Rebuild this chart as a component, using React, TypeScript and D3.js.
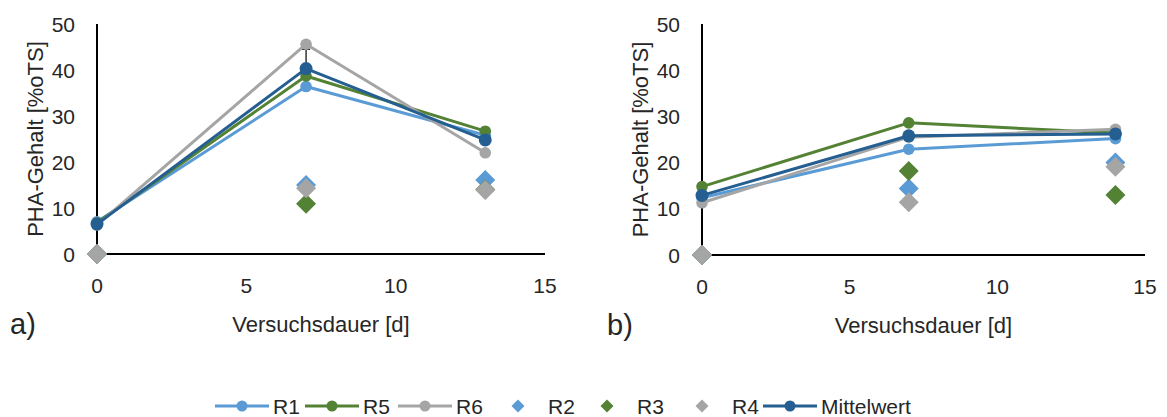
import React from "react";
import * as d3 from "d3";

// Versuchstage
const daysA = [0, 7, 13];
const daysB = [0, 7, 14];

// a) Reaktoren mit Verlauf (Linie)
const r1A = [7.0, 36.4, 25.8];
const r5A = [6.8, 38.7, 26.7];
const r6A = [6.3, 45.6, 22.0];
const meanA = [6.5, 40.3, 24.8];
const errA = [0, 4.2, 0];
// a) Einzelwerte (nur Punkte)
const r2A = [0, 15.0, 16.1];
const r3A = [0, 10.9, 14.0];
const r4A = [0, 14.3, 13.9];

// b)
const r1B = [12.4, 22.9, 25.2];
const r5B = [14.8, 28.6, 26.4];
const r6B = [11.3, 25.5, 27.2];
const meanB = [12.9, 25.8, 26.2];
const errB = [0, 0, 0];
const r2B = [0, 14.4, 20.0];
const r3B = [0, 18.2, 13.0];
const r4B = [0, 11.4, 19.1];

const yTicks = [0, 10, 20, 30, 40, 50];
const xTicks = [0, 5, 10, 15];

const C1 = "#5B9BD5";
const C5 = "#548235";
const C6 = "#A5A5A5";
const CM = "#255E91";
const FONT = "'Liberation Sans', Arial, sans-serif";
const TXT = "#262626";

const diamond = (cx, cy, h) => `M${cx},${cy - h}L${cx + h},${cy}L${cx},${cy + h}L${cx - h},${cy}Z`;

const Panel = ({ left, right, top, bottom, days, lines, points, mean, err, tag, tagX }) => {
  const x = d3.scaleLinear().domain([0, 15]).range([left, right]);
  const y = d3.scaleLinear().domain([0, 50]).range([bottom, top]);
  const line = d3
    .line<number>()
    .x((_, i) => x(days[i]))
    .y((d) => y(d));

  return (
    <g>
      {/* Achsen */}
      <line x1={left} x2={left} y1={top} y2={bottom} stroke="#000" strokeWidth={2} />
      <line x1={left} x2={right} y1={bottom} y2={bottom} stroke="#000" strokeWidth={2} />
      {yTicks.map((t) => (
        <text key={"y" + t} x={left - 22} y={y(t)} dy="0.36em" textAnchor="end" fontSize={21} fill={TXT} fontFamily={FONT}>
          {t}
        </text>
      ))}
      {xTicks.map((t) => (
        <text key={"x" + t} x={x(t)} y={bottom + 39} textAnchor="middle" fontSize={21} fill={TXT} fontFamily={FONT}>
          {t}
        </text>
      ))}
      <text
        transform={`translate(${left - 62},${(top + bottom) / 2}) rotate(-90)`}
        textAnchor="middle"
        dy="0.36em"
        fontSize={22}
        fill={TXT}
        fontFamily={FONT}
      >
        PHA-Gehalt [%oTS]
      </text>
      <text x={(left + right) / 2} y={bottom + 78} textAnchor="middle" fontSize={22} fill={TXT} fontFamily={FONT}>
        Versuchsdauer [d]
      </text>
      <text x={tagX} y={bottom + 80} fontSize={29} fill={TXT} fontFamily={FONT}>
        {tag}
      </text>

      {/* Fehlerbalken liegen hinter den Markern */}
      {err.map((e, i) =>
        e > 0 ? (
          <g key={"e" + i} stroke="#000" strokeWidth={1.2}>
            <line x1={x(days[i])} x2={x(days[i])} y1={y(mean[i] - e)} y2={y(mean[i] + e)} />
            <line x1={x(days[i]) - 4} x2={x(days[i]) + 4} y1={y(mean[i] + e)} y2={y(mean[i] + e)} />
            <line x1={x(days[i]) - 4} x2={x(days[i]) + 4} y1={y(mean[i] - e)} y2={y(mean[i] - e)} />
          </g>
        ) : null
      )}
      {lines.map((s) => (
        <g key={s.name}>
          <path d={line(s.values)} fill="none" stroke={s.color} strokeWidth={3} strokeLinejoin="round" />
          {s.values.map((v, i) => (
            <circle key={i} cx={x(days[i])} cy={y(v)} r={5.8} fill={s.color} />
          ))}
        </g>
      ))}
      {points.map((s) => (
        <g key={s.name}>
          {s.values.map((v, i) => (
            <path key={i} d={diamond(x(days[i]), y(v), 10)} fill={s.color} />
          ))}
        </g>
      ))}
      <path d={line(mean)} fill="none" stroke={CM} strokeWidth={3} strokeLinejoin="round" />
      {mean.map((v, i) => (
        <circle key={i} cx={x(days[i])} cy={y(v)} r={6.5} fill={CM} />
      ))}
    </g>
  );
};

const legendItems = [
  { name: "R1", color: C1, kind: "line", x: 215 },
  { name: "R5", color: C5, kind: "line", x: 305 },
  { name: "R6", color: C6, kind: "line", x: 398 },
  { name: "R2", color: C1, kind: "point", x: 508 },
  { name: "R3", color: C5, kind: "point", x: 597 },
  { name: "R4", color: C6, kind: "point", x: 692 },
  { name: "Mittelwert", color: CM, kind: "line", x: 763 },
];

const App = () => {
  const ly = 406;
  return (
    <svg width={1167} height={417} style={{ position: "absolute", left: 0, top: 0, background: "#fff" }}>
      <Panel
        left={97}
        right={545}
        top={24}
        bottom={254}
        days={daysA}
        lines={[
          { name: "R1", color: C1, values: r1A },
          { name: "R5", color: C5, values: r5A },
          { name: "R6", color: C6, values: r6A },
        ]}
        points={[
          { name: "R2", color: C1, values: r2A },
          { name: "R3", color: C5, values: r3A },
          { name: "R4", color: C6, values: r4A },
        ]}
        mean={meanA}
        err={errA}
        tag="a)"
        tagX={10}
      />
      <Panel
        left={702}
        right={1145}
        top={24}
        bottom={255}
        days={daysB}
        lines={[
          { name: "R1", color: C1, values: r1B },
          { name: "R5", color: C5, values: r5B },
          { name: "R6", color: C6, values: r6B },
        ]}
        points={[
          { name: "R2", color: C1, values: r2B },
          { name: "R3", color: C5, values: r3B },
          { name: "R4", color: C6, values: r4B },
        ]}
        mean={meanB}
        err={errB}
        tag="b)"
        tagX={607}
      />
      {legendItems.map((it) =>
        it.kind === "line" ? (
          <g key={it.name}>
            <line x1={it.x} x2={it.x + 54} y1={ly} y2={ly} stroke={it.color} strokeWidth={3} />
            <circle cx={it.x + 27} cy={ly} r={5.5} fill={it.color} />
            <text x={it.x + 58} y={ly} dy="0.36em" fontSize={21} fill={TXT} fontFamily={FONT}>
              {it.name}
            </text>
          </g>
        ) : (
          <g key={it.name}>
            <path d={diamond(it.x + 10, ly, 6.5)} fill={it.color} />
            <text x={it.x + 40} y={ly} dy="0.36em" fontSize={21} fill={TXT} fontFamily={FONT}>
              {it.name}
            </text>
          </g>
        )
      )}
    </svg>
  );
};

export default App;
